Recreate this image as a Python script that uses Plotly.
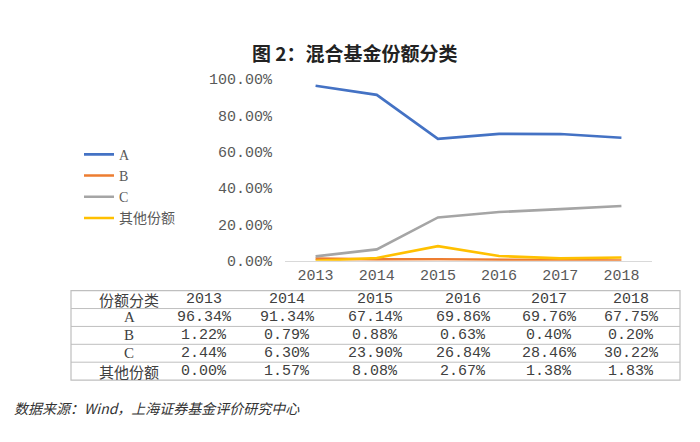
import plotly.graph_objects as go

# ---- data ----
years = ["2013", "2014", "2015", "2016", "2017", "2018"]
series_names = ["A", "B", "C", "其他份额"]
share_a = [0.9634, 0.9134, 0.6714, 0.6986, 0.6976, 0.6775]
share_b = [0.0122, 0.0079, 0.0088, 0.0063, 0.0040, 0.0020]
share_c = [0.0244, 0.0630, 0.2390, 0.2684, 0.2846, 0.3022]
share_other = [0.0000, 0.0157, 0.0808, 0.0267, 0.0138, 0.0183]
y_ticks = [0, 0.2, 0.4, 0.6, 0.8, 1.0]
table_header = "份额分类"
title_text = "图 2：混合基金份额分类"
source_text = "数据来源：Wind，上海证券基金评价研究中心"

colors = ["#4472C4", "#ED7D31", "#A5A5A5", "#FFC000"]
all_series = [share_a, share_b, share_c, share_other]

W, H = 700, 442
def px(x):
    return x / W
def py(y):
    return 1 - y / H

MONO = "Liberation Mono, Noto Sans CJK SC"
CJK = "Noto Sans CJK SC, Liberation Serif"

fig = go.Figure()
for name, vals, col in zip(series_names, all_series, colors):
    fig.add_trace(go.Scatter(
        x=years, y=vals, mode="lines", name=name,
        line=dict(color=col, width=2.6),
    ))

fig.update_layout(
    width=W, height=H, autosize=False,
    margin=dict(l=0, r=0, t=0, b=0),
    paper_bgcolor="white", plot_bgcolor="white",
    showlegend=True,
    legend=dict(
        x=px(79), y=py(137), xanchor="left", yanchor="top",
        font=dict(family="Liberation Serif, Noto Sans CJK SC", size=14, color="#595959"),
        bgcolor="rgba(0,0,0,0)", traceorder="normal",
    ),
    xaxis=dict(
        domain=[px(285), px(652)], type="category", range=[-0.5, 5.5],
        showgrid=False, showline=True, linecolor="#D9D9D9", linewidth=1,
        ticks="", tickfont=dict(family=MONO, size=15, color="#595959"),
        zeroline=False,
    ),
    yaxis=dict(
        domain=[py(264), py(75)], range=[0, 1],
        tickvals=y_ticks, tickformat=".2%",
        showgrid=False, showline=False, zeroline=False, ticks="",
        tickfont=dict(family=MONO, size=15, color="#595959"),
        ticklabelstandoff=12,
    ),
)

annotations = []
shapes = []

# title
annotations.append(dict(
    text="<b>" + title_text + "</b>", x=px(355), y=py(47), xref="paper", yref="paper",
    xanchor="center", yanchor="middle", showarrow=False,
    font=dict(family=CJK, size=19, color="#222222"),
))

# table
tbl_left, tbl_right = 71, 680
tbl_top, tbl_bottom = 295, 388
n_rows = 1 + len(series_names)
row_h = (tbl_bottom - tbl_top) / n_rows
label_cx = 129
col_cx = [204, 287, 375, 463, 549, 631]
border = "#BFBFBF"

shapes.append(dict(type="rect", xref="paper", yref="paper",
                   x0=px(tbl_left), x1=px(tbl_right), y0=py(tbl_bottom), y1=py(tbl_top),
                   line=dict(color=border, width=1.2), fillcolor="rgba(0,0,0,0)"))
for i in range(1, n_rows):
    yy = tbl_top + i * row_h
    shapes.append(dict(type="line", xref="paper", yref="paper",
                       x0=px(tbl_left), x1=px(tbl_right), y0=py(yy), y1=py(yy),
                       line=dict(color=border, width=1)))

def cell(text, cx, row, family, size=15):
    cy = tbl_top + (row + 0.5) * row_h
    annotations.append(dict(
        text=text, x=px(cx), y=py(cy), xref="paper", yref="paper",
        xanchor="center", yanchor="middle", showarrow=False,
        font=dict(family=family, size=size, color="#404040"),
    ))

cell(table_header, label_cx, 0, CJK, 15)
for j, yr in enumerate(years):
    cell(yr, col_cx[j], 0, MONO)
for r, (name, vals) in enumerate(zip(series_names, all_series)):
    if len(name) == 1:
        cell(name, label_cx, r + 1, "Liberation Serif, Noto Sans CJK SC", 15)
    else:
        cell(name, label_cx, r + 1, CJK, 15)
    for j, v in enumerate(vals):
        cell(f"{v * 100:.2f}%", col_cx[j], r + 1, MONO)

# source note
annotations.append(dict(
    text="<i>" + source_text + "</i>", x=px(12), y=py(417), xref="paper", yref="paper",
    xanchor="left", yanchor="middle", showarrow=False,
    font=dict(family=CJK, size=14, color="#333333"),
))

fig.update_layout(annotations=annotations, shapes=shapes)
fig.write_html(
    "out.html",
    config={"displayModeBar": False},
    post_script="document.body.style.margin='0';document.body.style.overflow='hidden';",
)
